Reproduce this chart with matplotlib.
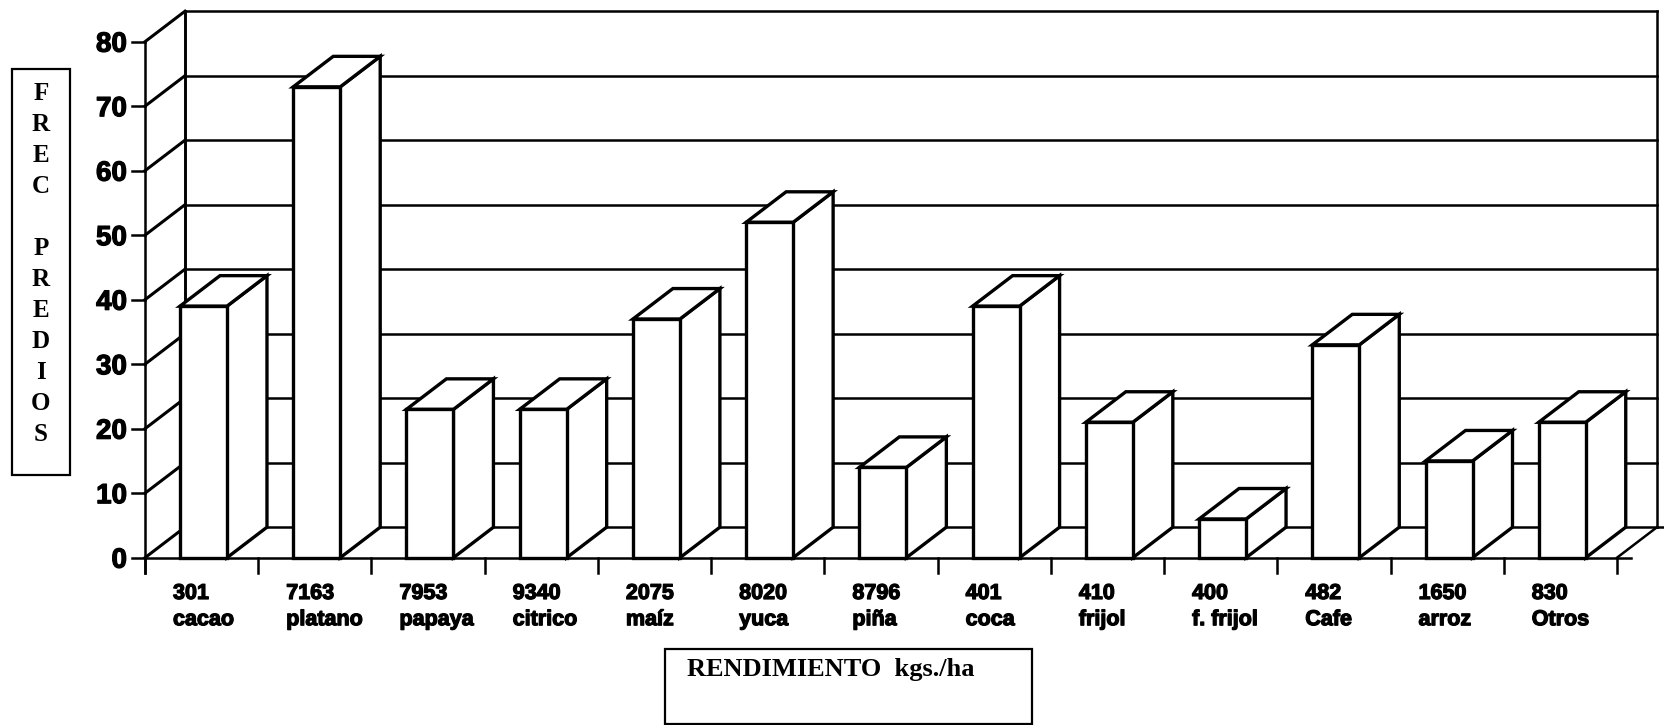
import matplotlib
matplotlib.use("Agg")
import matplotlib.pyplot as plt
from matplotlib.patches import Polygon, Rectangle
import matplotlib.patheffects as pe

# ---- data ----
rend_codes = ["301", "7163", "7953", "9340", "2075", "8020", "8796",
              "401", "410", "400", "482", "1650", "830"]
crops = ["cacao", "platano", "papaya", "citrico", "maíz", "yuca", "piña",
         "coca", "frijol", "f. frijol", "Cafe", "arroz", "Otros"]
frec_predios = [39, 73, 23, 23, 37, 52, 14, 39, 21, 6, 33, 15, 21]
y_ticks = [0, 10, 20, 30, 40, 50, 60, 70, 80]
y_label = "FREC PREDIOS"
x_label = "RENDIMIENTO  kgs./ha"

# ---- style / geometry ----
W, H = 1665, 725
PX_X = 113.23          # pixels per category
PX_Y = 6.45            # pixels per unit of frequency
X0_PX, Y0_PX = 145, 557.7
DX = 40 / PX_X         # depth offset (data units)
DY = 30.5 / PX_Y
BAR_OFF, BAR_W = 0.309, 0.415
LW_WALL, LW_BAR = 1.8, 2.4
SANS = ["Liberation Sans", "DejaVu Sans"]
SERIF = ["Liberation Serif", "DejaVu Serif"]
HEAVY = [pe.withStroke(linewidth=0.9, foreground="black")]

fig = plt.figure(figsize=(W / 100, H / 100), dpi=100)
ax = fig.add_axes([0, 0, 1, 1])
ax.set_xlim(-X0_PX / PX_X, (W - X0_PX) / PX_X)
ax.set_ylim(-(H - Y0_PX) / PX_Y, Y0_PX / PX_Y)
ax.axis("off")

n = len(frec_predios)
ymax = y_ticks[-1]
k = dict(color="black", solid_capstyle="projecting", zorder=1)

# back wall gridlines and left side wall
for t in y_ticks:
    ax.plot([DX, n + DX], [t + DY, t + DY], lw=LW_WALL, **k)
    ax.plot([0, DX], [t, t + DY], lw=LW_WALL + 0.4, **k)
ax.plot([DX, DX], [DY, ymax + DY], lw=LW_WALL + 0.3, **k)
ax.plot([n + DX, n + DX], [DY, ymax + DY], lw=LW_WALL, **k)
ax.plot([n + DX, n + DX + 0.08], [DY, DY], lw=LW_WALL, **k)
# floor
ax.plot([0, n + 0.12], [0, 0], lw=LW_WALL, **k)
ax.plot([n, n + DX], [0, DY], lw=LW_WALL, **k)
# y axis (front edge) and ticks
ax.plot([0, 0], [-15 / PX_Y, ymax], lw=LW_WALL, **k)
for t in y_ticks:
    ax.plot([-13 / PX_X, 0], [t, t], lw=LW_WALL, **k)
    ax.text(-18 / PX_X, t, str(t), ha="right", va="center_baseline",
            fontsize=20, fontweight="bold", family=SANS, path_effects=HEAVY)
# x ticks
for i in range(n + 1):
    ax.plot([i, i], [0, -15 / PX_Y], lw=LW_WALL, **k)

# bars
for i, v in enumerate(frec_predios):
    x0 = i + BAR_OFF
    x1 = x0 + BAR_W
    front = Rectangle((x0, 0), BAR_W, v)
    top = Polygon([(x0, v), (x1, v), (x1 + DX, v + DY), (x0 + DX, v + DY)])
    side = Polygon([(x1, 0), (x1, v), (x1 + DX, v + DY), (x1 + DX, DY)])
    for p in (side, top, front):
        p.set_facecolor("white")
        p.set_edgecolor("black")
        p.set_linewidth(LW_BAR)
        p.set_joinstyle("miter")
        p.set_zorder(3 + i)
        ax.add_patch(p)

# category labels
for i, (c, name) in enumerate(zip(rend_codes, crops)):
    xl = i + 28 / PX_X
    ax.text(xl, -41.3 / PX_Y, c, ha="left", va="baseline", fontsize=15.5,
            fontweight="bold", family=SANS, path_effects=HEAVY)
    ax.text(xl, -67.5 / PX_Y, name, ha="left", va="baseline", fontsize=15.5,
            fontweight="bold", family=SANS, path_effects=HEAVY)

# y-axis title box with stacked letters
fig.patches.append(Rectangle((12 / W, 1 - 475 / H), 58 / W, 406 / H,
                             transform=fig.transFigure, fill=False,
                             edgecolor="black", lw=1.6))
for j, ch in enumerate(y_label):
    if ch == " ":
        continue
    fig.text(41 / W, 1 - (93.5 + 31 * j) / H, ch, ha="center",
             va="center", fontsize=18, fontweight="bold", family=SERIF)

# x-axis title box
fig.patches.append(Rectangle((665 / W, 1 - 724 / H), 367 / W, 75 / H,
                             transform=fig.transFigure, fill=False,
                             edgecolor="black", lw=1.6))
fig.text(687 / W, 1 - 676 / H, x_label, ha="left", va="baseline",
         fontsize=19, fontweight="bold", family=SERIF)

fig.savefig("out.png", dpi=100, facecolor="white")
